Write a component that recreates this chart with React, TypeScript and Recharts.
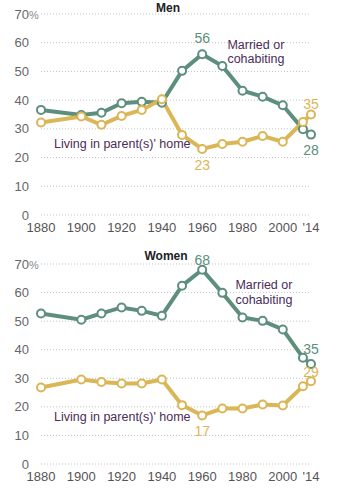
import { CartesianGrid, Label, Line, LineChart, ReferenceDot, XAxis, YAxis } from "recharts";

const years = [1880, 1900, 1910, 1920, 1930, 1940, 1950, 1960, 1970, 1980, 1990, 2000, 2010, 2014];
const menMarried = [36.6, 34.8, 35.6, 38.9, 39.4, 39.1, 50.2, 56, 51.9, 43.3, 41.2, 38.2, 29.9, 28];
const menParents = [32.2, 34.3, 31.4, 34.5, 36.6, 40.3, 27.9, 23, 24.7, 25.5, 27.5, 25.5, 32.4, 35];
const womenMarried = [52.7, 50.5, 52.7, 54.8, 53.6, 51.9, 62.4, 68, 59.9, 51.3, 50.1, 47.1, 37.2, 35];
const womenParents = [26.8, 29.6, 28.7, 28.2, 28.2, 29.6, 20.6, 17, 19.4, 19.4, 20.8, 20.5, 27.2, 29];
const yTicks = [0, 10, 20, 30, 40, 50, 60, 70];
const xTicks = [1880, 1900, 1920, 1940, 1960, 1980, 2000, 2014];

const GREEN = "#5d8f7c";
const GOLD = "#dbb656";
const NOTE = "#4b2c58";
const FONT = "'Liberation Sans', Arial, sans-serif";

type Panel = {
  title: string;
  married: number[];
  parents: number[];
};

const panels: Panel[] = [
  { title: "Men", married: menMarried, parents: menParents },
  { title: "Women", married: womenMarried, parents: womenParents }
];

const YTick = ({ x, y, payload }: any) => (
  <g>
    <text x={x} y={y} dy={4.5} textAnchor="end" fill="#666" fontSize={13} fontFamily={FONT}>
      {payload.value}
    </text>
    {payload.value === 70 && (
      <text x={x} y={y} dy={4.5} fill="#888" fontSize={11} fontFamily={FONT}>
        %
      </text>
    )}
  </g>
);

const fmtYear = (v: number) => (v === 2014 ? "'14" : String(v));

function TwoLines({ viewBox }: any) {
  return (
    <text x={viewBox.x} y={viewBox.y} fill={NOTE} fontSize={12.5} fontFamily={FONT}>
      <tspan x={viewBox.x} dy={0}>Married or</tspan>
      <tspan x={viewBox.x} dy={14.5}>cohabiting</tspan>
    </text>
  );
}

function ValueNote({ x, y, color, pos, offset = 9 }: any) {
  return (
    <ReferenceDot
      x={x}
      y={y}
      r={1}
      fill="none"
      stroke="none"
      ifOverflow="visible"
      label={<Label value={String(y)} position={pos} offset={offset} fill={color} fontSize={14} fontFamily={FONT} />}
    />
  );
}

function PanelChart({ panel, index }: { panel: Panel; index: number }) {
  const data = years.map((yr, i) => ({ year: yr, married: panel.married[i], parents: panel.parents[i] }));
  const men = index === 0;
  const last = years.length - 1;
  return (
    <div style={{ position: "absolute", left: 0, top: men ? 0 : 250 }}>
      <LineChart width={346} height={men ? 245 : 244} data={data} margin={{ top: 14, right: 35, left: 0, bottom: 0 }}>
        <CartesianGrid vertical={false} stroke="#c4c4c4" strokeDasharray="1 2" />
        <XAxis
          dataKey="year"
          type="number"
          domain={[1880, 2014]}
          ticks={xTicks}
          tickFormatter={fmtYear}
          axisLine={false}
          tickLine={false}
          height={30}
          tick={{ fill: "#555", fontSize: 13, fontFamily: FONT }}
          interval={0}
        />
        <YAxis
          domain={[0, 70]}
          ticks={yTicks}
          axisLine={false}
          tickLine={false}
          width={41}
          tick={<YTick />}
          tickMargin={6}
        />
        <Line
          dataKey="married"
          stroke={GREEN}
          strokeWidth={4}
          dot={{ r: 4, fill: "#fff", stroke: GREEN, strokeWidth: 2 }}
          isAnimationActive={false}
        />
        <Line
          dataKey="parents"
          stroke={GOLD}
          strokeWidth={4}
          dot={{ r: 4, fill: "#fff", stroke: GOLD, strokeWidth: 2 }}
          isAnimationActive={false}
        />
        {ValueNote({ x: 1960, y: panel.married[7], color: GREEN, pos: "top", offset: men ? 10 : 4 })}
        {ValueNote({ x: 1960, y: panel.parents[7], color: GOLD, pos: "bottom", offset: 10 })}
        {ValueNote({ x: 2014, y: panel.married[last], color: GREEN, pos: men ? "bottom" : "top", offset: 9 })}
        {ValueNote({ x: 2014, y: panel.parents[last], color: GOLD, pos: "top", offset: men ? 5 : 3 })}
        <ReferenceDot
          x={men ? 1973 : 1977}
          y={men ? 57.5 : 60.8}
          r={1}
          fill="none"
          stroke="none"
          ifOverflow="visible"
          label={<TwoLines />}
        />
        <ReferenceDot
          x={1886}
          y={men ? 25 : 16.5}
          r={1}
          fill="none"
          stroke="none"
          ifOverflow="visible"
          label={<Label value="Living in parent(s)' home" position="right" offset={0} fill={NOTE} fontSize={12.5} fontFamily={FONT} />}
        />
      </LineChart>
      <div
        style={{
          position: "absolute",
          left: men ? 138 : 136,
          width: 60,
          top: men ? 1 : -1,
          textAlign: "center",
          fontFamily: FONT,
          fontWeight: 700,
          fontSize: 12,
          lineHeight: "14px",
          color: "#222"
        }}
      >
        {panel.title}
      </div>
    </div>
  );
}

export default function App() {
  return (
    <div style={{ position: "absolute", left: 0, top: 0, width: 346, height: 501, background: "#fff" }}>
      {panels.map((p, i) => (
        <PanelChart key={p.title} panel={p} index={i} />
      ))}
    </div>
  );
}
